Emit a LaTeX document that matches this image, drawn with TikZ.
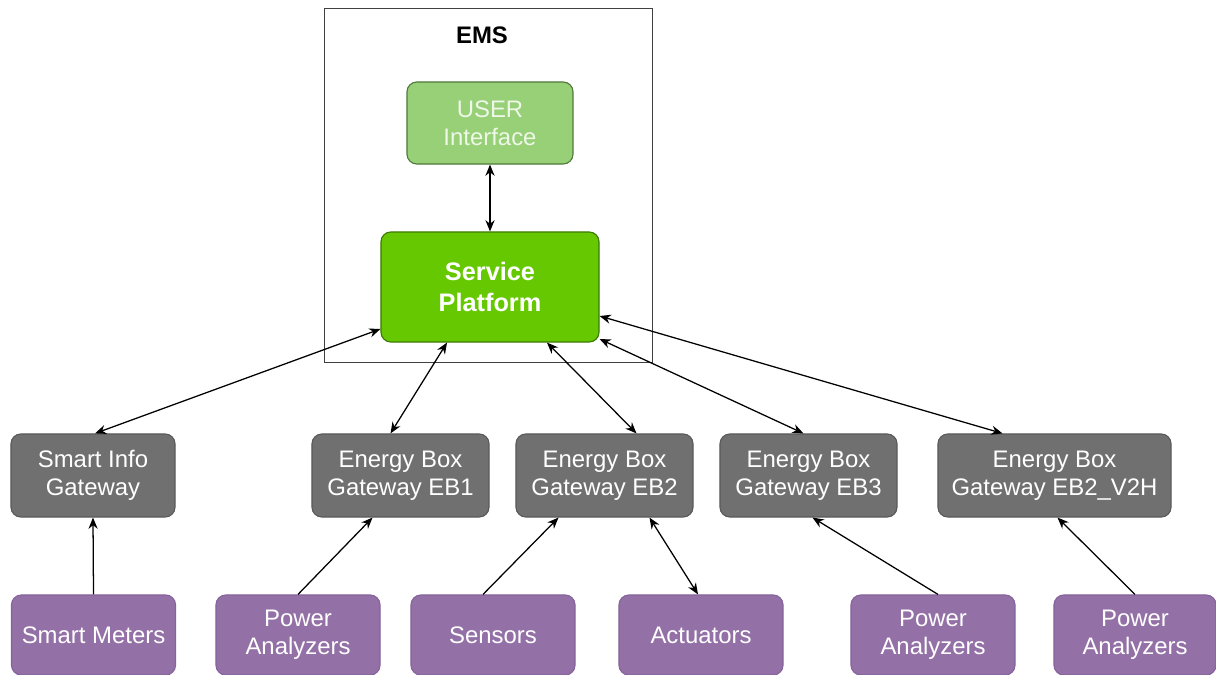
\documentclass[tikz,border=0pt]{standalone}
\usepackage{fontspec}
\setmainfont{Liberation Sans}
\usetikzlibrary{arrows.meta,calc}

\definecolor{gwfill}{HTML}{707070}
\definecolor{gwline}{HTML}{5A5A5A}
\definecolor{devfill}{HTML}{9370A6}
\definecolor{devline}{HTML}{86639A}
\definecolor{spfill}{HTML}{66C800}
\definecolor{spline}{HTML}{3C7A05}
\definecolor{uifill}{HTML}{97D077}
\definecolor{uiline}{HTML}{4F7A3C}
\definecolor{uitext}{HTML}{EEF7E8}

\begin{document}
\begin{tikzpicture}[x=0.025cm,y=-0.025cm]
				\tikzstyle{bbox}=[rectangle, rounded corners=7pt, line width=0.8pt, align=center, text=white, inner sep=0pt, font=\fontsize{17}{20}\selectfont]
				\tikzstyle{gwnode}=[bbox, fill=gwfill, draw=gwline, minimum width=4.425cm, minimum height=2.075cm]
				\tikzstyle{devnode}=[bbox, fill=devfill, draw=devline, minimum width=4.1cm, minimum height=2cm]
				\tikzstyle{link}=[line width=0.9pt, -{Stealth[length=8pt,width=6.5pt]}]
				\tikzstyle{dlink}=[link, {Stealth[length=8pt,width=6.5pt]}-{Stealth[length=8pt,width=6.5pt]}]
				\useasboundingbox (0,0) rectangle (1216,675);
				\draw[line width=0.7pt, draw=black!75] (324,8) rectangle (652,362);
				\node[font=\fontsize{17}{20}\selectfont\bfseries] (ems) at (482,35) {EMS};
				\node[bbox, fill=uifill, draw=uiline, text=uitext, minimum width=4.15cm, minimum height=2.05cm] (ui) at (490,123) {USER\\Interface};
				\node[bbox, fill=spfill, draw=spline, minimum width=5.45cm, minimum height=2.75cm, font=\fontsize{18}{22}\selectfont\bfseries] (sp) at (490,287) {Service\\Platform};
				\node[gwnode, minimum width=4.1cm] (info) at (93,475.5) {Smart Info\\Gateway};
				\node[gwnode] (eb1) at (400.5,475.5) {Energy Box\\Gateway EB1};
				\node[gwnode] (eb2) at (604.5,475.5) {Energy Box\\Gateway EB2};
				\node[gwnode] (eb3) at (808.5,475.5) {Energy Box\\Gateway EB3};
				\node[gwnode, minimum width=5.825cm] (v2h) at (1054.5,475.5) {Energy Box\\Gateway EB2\_V2H};
				\node[devnode] (meters) at (93.5,635) {Smart Meters};
				\node[devnode] (pa1) at (298,635) {Power\\Analyzers};
				\node[devnode] (sensors) at (493,635) {Sensors};
				\node[devnode] (act) at (701,635) {Actuators};
				\node[devnode] (pa2) at (933,635) {Power\\Analyzers};
				\node[devnode, minimum width=4.05cm] (pa3) at (1135,635) {Power\\Analyzers};
				\draw[dlink] (ui) -- (sp);
				\draw[dlink] ($(sp.west)+(0,42)$) -- ($(info.north)+(2,0)$);
				\draw[dlink] ($(sp.south)+(-43,0)$) -- ($(eb1.north)+(-10,0)$);
				\draw[dlink] ($(sp.south)+(57,0)$) -- ($(eb2.north)+(32,0)$);
				\draw[dlink] ($(sp.east)+(0,52)$) -- ($(eb3.north)+(-5,0)$);
				\draw[dlink] ($(sp.east)+(0,29)$) -- ($(v2h.north)+(-52,0)$);
				\draw[link] (meters.north) -- (info.south);
				\draw[link] (pa1.north) -- ($(eb1.south)+(-28,0)$);
				\draw[link] ($(sensors.north)+(-10,0)$) -- ($(eb2.south)+(-46,0)$);
				\draw[dlink] ($(eb2.south)+(45,0)$) -- ($(act.north)+(-3,0)$);
				\draw[link] ($(pa2.north)+(5,0)$) -- ($(eb3.south)+(4,0)$);
				\draw[link] (pa3.north) -- ($(v2h.south)+(3,0)$);
			\end{tikzpicture}
\end{document}
